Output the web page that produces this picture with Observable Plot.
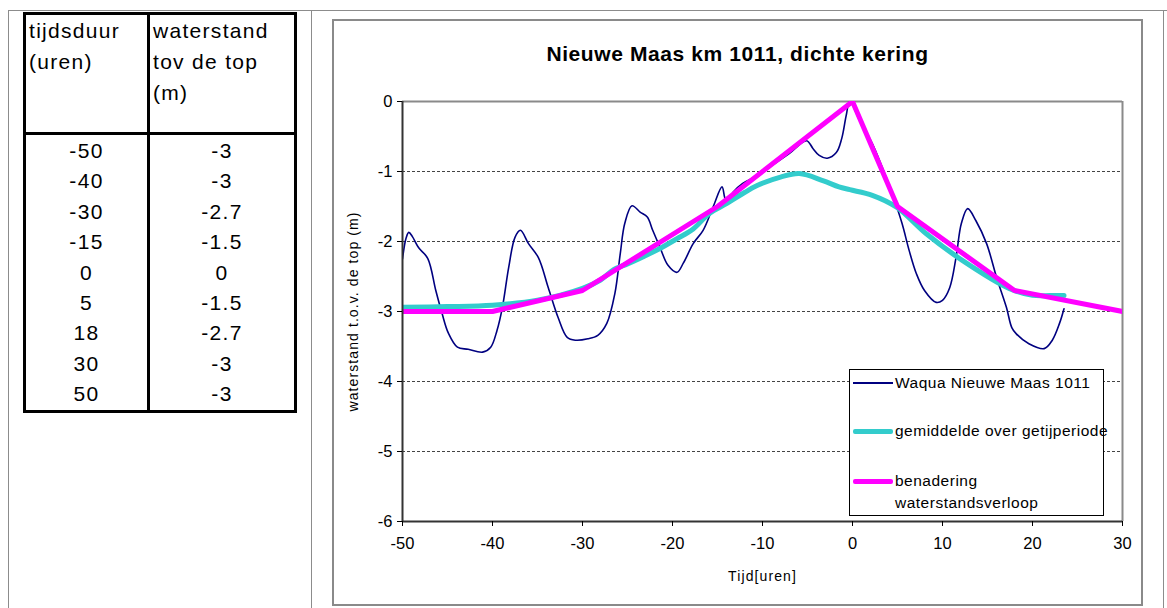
<!DOCTYPE html>
<html>
<head>
<meta charset="utf-8">
<script src="https://cdn.jsdelivr.net/npm/d3@7"></script>
<script src="https://cdn.jsdelivr.net/npm/@observablehq/plot@0.6"></script>
<style>
  html, body { margin: 0; padding: 0; background: #fff; }
  body { font-family: "Liberation Sans", Arial, sans-serif; color: #000; }
  #page { position: relative; width: 1167px; height: 608px; overflow: hidden; }
  .ln { position: absolute; background: #8c8c8c; }
  #tbl { position: absolute; left: 23px; top: 12px; width: 274px; border-collapse: collapse; border: 3px solid #000; font-size: 21px; letter-spacing: 1.3px; table-layout: fixed; }
  #tbl td { border: 3px solid #000; padding: 0; vertical-align: top; }
  #tbl td.k1 { width: 118px; }
  #tbl tr.hd td { height: 117px; line-height: 31px; padding-left: 3px; text-align: left; }
  #tbl tr.bd td { line-height: 30.4px; text-align: center; height: 268px; padding-top: 1px; }
  #frame { position: absolute; left: 332px; top: 19px; width: 811px; height: 587px; box-sizing: border-box; border: 2px solid #8a8a8a; }
  #chart { position: absolute; left: 332px; top: 19px; }
  #title { position: absolute; left: 332px; width: 811px; top: 42px; text-align: center; font-weight: bold; font-size: 21px; letter-spacing: 0.6px; line-height: 24px; }
  #legend { position: absolute; left: 849px; top: 369px; width: 255px; height: 147px; box-sizing: border-box; border: 1px solid #000; background: #fff; font-size: 15.5px; letter-spacing: 0.5px; }
  .sw { position: absolute; left: 3px; width: 40px; }
  .lt { position: absolute; left: 45px; line-height: 22px; white-space: nowrap; }
  g[aria-label="y-axis label"] text, g[aria-label="x-axis label"] text { font-size: 14px; letter-spacing: 1.1px; }
  g[aria-label="x-axis tick label"] text, g[aria-label="y-axis tick label"] text { font-size: 16.5px; }
</style>
</head>
<body>
<div id="page">
  <div class="ln" style="left:8px;top:10px;width:1159px;height:1px;"></div>
  <div class="ln" style="left:8px;top:10px;width:1px;height:598px;"></div>
  <div class="ln" style="left:311px;top:10px;width:1px;height:598px;"></div>
  <div class="ln" style="left:1163px;top:10px;width:1px;height:598px;"></div>

  <table id="tbl">
    <tr class="hd"><td id="h1" class="k1"></td><td id="h2"></td></tr>
    <tr class="bd"><td id="c1" class="k1"></td><td id="c2"></td></tr>
  </table>

  <div id="frame"></div>
  <div id="chart"></div>
  <div id="title"></div>
  <div id="legend"></div>
</div>
<script>
// ---- data ----
const title = "Nieuwe Maas km 1011, dichte kering";
const xLabel = "Tijd[uren]";
const yLabel = "waterstand t.o.v. de top (m)";
const tableHeader1 = ["tijdsduur", "(uren)"];
const tableHeader2 = ["waterstand", "tov de top", "(m)"];

// benadering waterstandsverloop (also the table)
const approxHours = [-50, -40, -30, -15, 0, 5, 18, 30, 50];
const approxLevel = [-3, -3, -2.7, -1.5, 0, -1.5, -2.7, -3, -3];

// Waqua Nieuwe Maas 1011
const waquaHours = [-50, -49.6, -49.3, -48.9, -48.2, -47.2, -46.3, -45.6, -44.9, -43.9, -42.7, -41.1, -40.2, -39.5, -38.9, -38.2, -37.5, -36.9, -36.0, -34.9, -33.8, -32.7, -31.7, -30.8, -29.4, -28.3, -27.3, -26.4, -25.8, -25.3, -24.5, -23.6, -22.8, -22.2, -21.4, -20.5, -19.5, -18.8, -17.7, -16.6, -15.5, -14.5, -14.2, -13.9, -13.3, -12.2, -10.6, -8.9, -7.0, -5.1, -4.4, -3.7, -2.8, -1.8, -1.2, -0.7, -0.3, 0.8, 2.2, 3.3, 4.4, 5.5, 6.3, 7.1, 8.0, 9.3, 10.0, 10.8, 11.5, 12.1, 12.8, 13.7, 14.9, 16.0, 17.1, 17.7, 18.2, 19.6, 21.3, 22.2, 23.0, 23.5];
const waquaLevel = [-2.25, -1.95, -1.87, -1.93, -2.09, -2.24, -2.70, -3.03, -3.31, -3.51, -3.54, -3.58, -3.51, -3.27, -2.94, -2.37, -1.94, -1.84, -2.03, -2.23, -2.66, -3.09, -3.37, -3.41, -3.39, -3.34, -3.17, -2.74, -2.17, -1.74, -1.49, -1.58, -1.65, -1.84, -2.08, -2.34, -2.44, -2.31, -2.03, -1.84, -1.51, -1.22, -1.37, -1.46, -1.30, -1.17, -1.06, -0.91, -0.74, -0.56, -0.67, -0.77, -0.81, -0.73, -0.53, -0.20, 0.0, -0.27, -0.60, -0.94, -1.31, -1.74, -2.13, -2.46, -2.70, -2.87, -2.84, -2.66, -2.23, -1.74, -1.53, -1.70, -2.03, -2.51, -2.94, -3.23, -3.32, -3.46, -3.53, -3.41, -3.17, -2.96];

// gemiddelde over getijperiode
const meanHours = [-50, -45, -40, -35, -30, -28, -26.5, -25, -23.3, -21.4, -19.5, -17.7, -15.9, -14, -12, -10.6, -8, -5.9, -3.3, -1.5, -0.3, 2.2, 4.9, 8.2, 12.2, 17.4, 20, 22.6, 23.5];
const meanLevel = [-2.94, -2.93, -2.91, -2.84, -2.67, -2.55, -2.40, -2.32, -2.22, -2.10, -1.96, -1.82, -1.60, -1.46, -1.30, -1.20, -1.08, -1.03, -1.13, -1.22, -1.26, -1.34, -1.51, -1.89, -2.27, -2.67, -2.77, -2.77, -2.77];

const xTicks = [-50, -40, -30, -20, -10, 0, 10, 20, 30];
const yTicks = [0, -1, -2, -3, -4, -5, -6];
const gridLevels = [-1, -2, -3, -4, -5];

const seriesNames = ["Waqua Nieuwe Maas 1011", "gemiddelde over getijperiode", "benadering\nwaterstandsverloop"];
const seriesColors = ["#000080", "#33CCCC", "#FF00FF"];
const seriesWidths = [1.6, 5, 5];

// ---- table ----
document.getElementById("h1").innerHTML = tableHeader1.join("<br>");
document.getElementById("h2").innerHTML = tableHeader2.join("<br>");
document.getElementById("c1").innerHTML = approxHours.map(String).join("<br>");
document.getElementById("c2").innerHTML = approxLevel.map(String).join("<br>");
document.getElementById("title").textContent = title;

// ---- chart ----
const waqua = waquaHours.map((h, i) => ({h, v: waquaLevel[i]}));
const mean = meanHours.map((h, i) => ({h, v: meanLevel[i]}));
const approx = approxHours.map((h, i) => ({h, v: approxLevel[i]}));

const chart = Plot.plot({
  width: 811,
  height: 587,
  marginLeft: 70,
  marginRight: 21,
  marginTop: 82,
  marginBottom: 85,
  style: {fontFamily: "'Liberation Sans', Arial, sans-serif", fontSize: "16px", background: "transparent", color: "#000", overflow: "visible"},
  x: {domain: [-50, 30]},
  y: {domain: [-6, 0]},
  marks: [
    Plot.ruleY(gridLevels, {stroke: "#444", strokeWidth: 1, strokeDasharray: "3,2"}),
    Plot.ruleY([0], {stroke: "#8a8a8a", strokeWidth: 2}),
    Plot.ruleX([30], {stroke: "#8a8a8a", strokeWidth: 2}),
    Plot.line(waqua, {x: "h", y: "v", stroke: seriesColors[0], strokeWidth: seriesWidths[0], curve: "catmull-rom", clip: true}),
    Plot.line(mean, {x: "h", y: "v", stroke: seriesColors[1], strokeWidth: seriesWidths[1], curve: "catmull-rom", clip: true}),
    Plot.line(approx, {x: "h", y: "v", stroke: seriesColors[2], strokeWidth: seriesWidths[2], strokeLinejoin: "miter", clip: true}),
    Plot.ruleX([-50], {stroke: "#333", strokeWidth: 2}),
    Plot.ruleY([-6], {stroke: "#333", strokeWidth: 2}),
    Plot.axisX({ticks: xTicks, tickSize: 5, tickPadding: 11, fontSize: 16.5, tickFormat: d => String(d), label: xLabel, labelAnchor: "center", labelArrow: "none", labelOffset: 59}),
    Plot.axisY({ticks: yTicks, tickSize: 5, tickPadding: 5, fontSize: 16.5, tickFormat: d => String(d), label: yLabel, labelAnchor: "center", labelArrow: "none", labelOffset: 54})
  ]
});
document.getElementById("chart").appendChild(chart);

// ---- legend ----
const legend = document.getElementById("legend");
const legendY = [13, 61, 111];
seriesNames.forEach((name, i) => {
  const sw = document.createElement("div");
  sw.className = "sw";
  sw.style.top = (legendY[i] - seriesWidths[i] / 2) + "px";
  sw.style.height = seriesWidths[i] + "px";
  sw.style.background = seriesColors[i];
  if (seriesWidths[i] > 2) sw.style.borderRadius = "2px";
  legend.appendChild(sw);
  name.split("\n").forEach((line, j) => {
    const t = document.createElement("div");
    t.className = "lt";
    t.textContent = line;
    t.style.top = (legendY[i] - 11 + j * 22) + "px";
    legend.appendChild(t);
  });
});
</script>
</body>
</html>
